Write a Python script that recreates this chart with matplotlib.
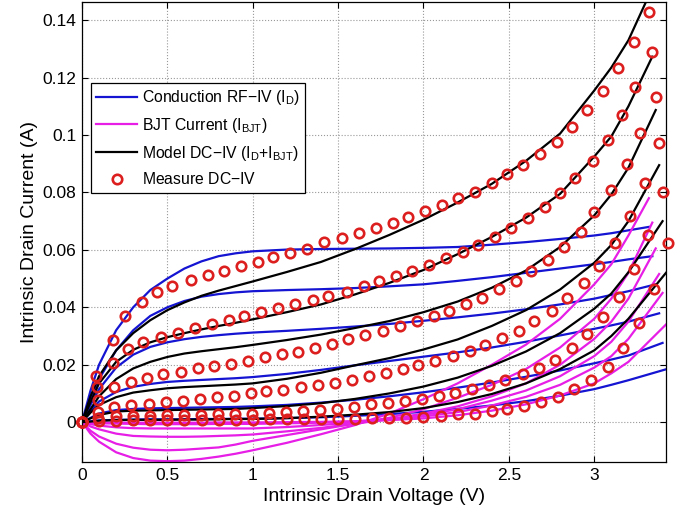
import matplotlib
matplotlib.use("Agg")
import matplotlib.pyplot as plt

# ---- measured DC-IV (intrinsic voltage, current), one list per gate bias ----
meas_v1 = [0, 0.08, 0.18, 0.25, 0.35, 0.44, 0.53, 0.64, 0.74, 0.83, 0.93, 1.03, 1.12, 1.22, 1.32, 1.42, 1.52, 1.62,
           1.72, 1.82, 1.91, 2.01, 2.11, 2.20, 2.30, 2.40, 2.49, 2.58, 2.68, 2.78, 2.87, 2.96, 3.05, 3.14, 3.23, 3.32]
meas_i1 = [0, 0.016, 0.0286, 0.037, 0.042, 0.0453, 0.0474, 0.0495, 0.0512, 0.0526, 0.0544, 0.0559, 0.0575, 0.059,
           0.0604, 0.0627, 0.0641, 0.0658, 0.0675, 0.0693, 0.0714, 0.0735, 0.0756, 0.078, 0.0801, 0.0833, 0.0864,
           0.0895, 0.0934, 0.0976, 0.1028, 0.1087, 0.1153, 0.1233, 0.1324, 0.1429]
meas_v2 = [0, 0.09, 0.18, 0.27, 0.36, 0.46, 0.56, 0.66, 0.76, 0.86, 0.95, 1.05, 1.15, 1.25, 1.35, 1.44, 1.55, 1.65,
           1.74, 1.84, 1.93, 2.03, 2.13, 2.23, 2.32, 2.42, 2.51, 2.61, 2.71, 2.80, 2.89, 2.99, 3.08, 3.16, 3.24, 3.34]
meas_i2 = [0, 0.0122, 0.0205, 0.0254, 0.028, 0.0297, 0.031, 0.0328, 0.0343, 0.0355, 0.0369, 0.0383, 0.0397, 0.041,
           0.0427, 0.0439, 0.0455, 0.0474, 0.0491, 0.0509, 0.0526, 0.0547, 0.0571, 0.0592, 0.0617, 0.0645, 0.0676,
           0.0711, 0.0749, 0.0798, 0.085, 0.0909, 0.0983, 0.107, 0.1167, 0.1289]
meas_v3 = [0, 0.094, 0.19, 0.287, 0.38, 0.476, 0.578, 0.678, 0.775, 0.873, 0.974, 1.072, 1.17, 1.267, 1.365, 1.463,
           1.56, 1.66, 1.76, 1.86, 1.96, 2.06, 2.15, 2.25, 2.34, 2.44, 2.54, 2.63, 2.73, 2.82, 2.92, 3.0, 3.1, 3.19,
           3.27, 3.36]
meas_i3 = [0, 0.0077, 0.0122, 0.014, 0.0154, 0.0166, 0.0175, 0.0187, 0.0196, 0.0204, 0.0214, 0.0226, 0.0236, 0.0246,
           0.0259, 0.0273, 0.0288, 0.0303, 0.0317, 0.0334, 0.0353, 0.037, 0.0388, 0.041, 0.0434, 0.0462, 0.0491,
           0.0526, 0.0565, 0.0611, 0.0663, 0.0733, 0.0808, 0.0899, 0.1006, 0.1134]
meas_v4 = [0, 0.096, 0.19, 0.29, 0.39, 0.49, 0.59, 0.69, 0.79, 0.89, 0.99, 1.08, 1.18, 1.28, 1.38, 1.48, 1.58, 1.68,
           1.78, 1.88, 1.97, 2.07, 2.17, 2.27, 2.36, 2.46, 2.56, 2.65, 2.75, 2.84, 2.94, 3.03, 3.12, 3.21, 3.30, 3.38]
meas_i4 = [0, 0.0036, 0.0052, 0.006, 0.0064, 0.0069, 0.0075, 0.008, 0.0087, 0.0092, 0.010, 0.0108, 0.0113, 0.0121,
           0.0129, 0.0138, 0.0146, 0.0159, 0.0171, 0.0184, 0.0199, 0.0213, 0.023, 0.0247, 0.0268, 0.0292, 0.0318,
           0.0352, 0.0387, 0.0431, 0.0483, 0.0545, 0.0623, 0.0719, 0.0833, 0.0971]
meas_v5 = [0, 0.096, 0.197, 0.297, 0.397, 0.497, 0.597, 0.697, 0.797, 0.896, 0.996, 1.096, 1.195, 1.295, 1.395, 1.494,
           1.593, 1.692, 1.791, 1.89, 1.99, 2.088, 2.187, 2.285, 2.384, 2.48, 2.58, 2.676, 2.772, 2.867, 2.96, 3.053,
           3.144, 3.232, 3.317, 3.40]
meas_i5 = [0, 0.0013, 0.002, 0.0022, 0.0023, 0.0024, 0.0025, 0.0026, 0.0027, 0.0028, 0.003, 0.0032, 0.0035, 0.0038,
           0.0042, 0.0047, 0.0053, 0.0062, 0.0067, 0.0074, 0.008, 0.0092, 0.010, 0.0114, 0.0129, 0.0146, 0.0166,
           0.0189, 0.0218, 0.0259, 0.0306, 0.0365, 0.0437, 0.0535, 0.0652, 0.080]
meas_v6 = [0, 0.1, 0.2, 0.3, 0.4, 0.5, 0.6, 0.7, 0.8, 0.9, 1.0, 1.1, 1.2, 1.3, 1.4, 1.5, 1.6, 1.7, 1.8, 1.9, 2.0, 2.1,
           2.2, 2.3, 2.4, 2.49, 2.59, 2.69, 2.79, 2.88, 2.98, 3.08, 3.17, 3.26, 3.35, 3.43]
meas_i6 = [0, 0.0003, 0.0005, 0.0006, 0.0006, 0.0007, 0.0007, 0.0008, 0.0008, 0.0009, 0.0009, 0.001, 0.001, 0.0011,
           0.0011, 0.0012, 0.0012, 0.0013, 0.0014, 0.0015, 0.0017, 0.0022, 0.0027, 0.003, 0.0038, 0.0047, 0.0056,
           0.0069, 0.0088, 0.0115, 0.0146, 0.0193, 0.0259, 0.0345, 0.0463, 0.0624]

# ---- model curves, sampled at these voltages (last one is each curve's end point) ----
v_grid = [0, 0.05, 0.1, 0.2, 0.3, 0.4, 0.5, 0.6, 0.7, 0.8, 0.9, 1.0, 1.2, 1.4, 1.6, 1.8, 2.0, 2.2, 2.4, 2.6, 2.8,
          3.0, 3.1, 3.2]
v_end = [3.32, 3.34, 3.36, 3.38, 3.40, 3.42]
v_end_model = [3.30, 3.34, 3.36, 3.38, 3.40, 3.42]

# conduction RF-IV (I_D)
blue_1 = [0, 0.011, 0.020, 0.032, 0.040, 0.046, 0.050, 0.0535, 0.056, 0.0578, 0.0588, 0.0595, 0.0601, 0.0603, 0.0604,
          0.0605, 0.0607, 0.061, 0.0618, 0.0627, 0.0638, 0.065, 0.0658, 0.0668, 0.068]
blue_2 = [0, 0.008, 0.015, 0.025, 0.032, 0.037, 0.040, 0.0422, 0.0437, 0.0446, 0.0452, 0.0456, 0.046, 0.0463, 0.0467,
          0.0473, 0.048, 0.0492, 0.0505, 0.052, 0.0535, 0.055, 0.0558, 0.0567, 0.0578]
blue_3 = [0, 0.006, 0.0115, 0.019, 0.0235, 0.0262, 0.0278, 0.0289, 0.0297, 0.0303, 0.0308, 0.0312, 0.0318, 0.0325,
          0.0333, 0.0342, 0.0353, 0.0365, 0.0378, 0.0393, 0.041, 0.043, 0.0443, 0.0456, 0.048]
blue_4 = [0, 0.004, 0.0072, 0.0105, 0.0123, 0.0133, 0.014, 0.0144, 0.0147, 0.015, 0.0153, 0.0157, 0.0168, 0.0182,
          0.0198, 0.0213, 0.0228, 0.0243, 0.026, 0.028, 0.0302, 0.0325, 0.0337, 0.035, 0.0379]
blue_5 = [0, 0.0015, 0.003, 0.0042, 0.0046, 0.0048, 0.0049, 0.005, 0.0051, 0.0052, 0.0053, 0.0055, 0.006, 0.0068,
          0.0078, 0.009, 0.0104, 0.012, 0.0138, 0.0158, 0.018, 0.0205, 0.0218, 0.0232, 0.0276]
blue_6 = [0, 0.0003, 0.0006, 0.0008, 0.0009, 0.001, 0.001, 0.001, 0.0011, 0.0011, 0.0012, 0.0012, 0.0014, 0.0017,
          0.0022, 0.0028, 0.0036, 0.0046, 0.0058, 0.0073, 0.0092, 0.0115, 0.013, 0.0146, 0.0184]

# BJT current (I_BJT)
mag_1 = [0, -0.004, -0.0068, -0.0105, -0.0125, -0.0134, -0.0136, -0.0134, -0.0128, -0.012, -0.011, -0.0098, -0.0072,
         -0.0042, -0.001, 0.003, 0.008, 0.0135, 0.02, 0.027, 0.036, 0.048, 0.055, 0.065, 0.078]
mag_2 = [0, -0.003, -0.005, -0.0075, -0.0089, -0.0096, -0.0098, -0.0096, -0.0092, -0.0088, -0.0078, -0.0065, -0.0045,
         -0.0025, -0.0005, 0.0015, 0.0045, 0.0085, 0.013, 0.0185, 0.026, 0.036, 0.043, 0.052, 0.0695]
mag_3 = [0, -0.0015, -0.0025, -0.004, -0.0048, -0.005, -0.0051, -0.0051, -0.005, -0.0048, -0.0046, -0.0043, -0.0032,
         -0.002, -0.0005, 0.001, 0.003, 0.0055, 0.009, 0.0135, 0.020, 0.029, 0.035, 0.043, 0.0605]
mag_4 = [0, -0.0007, -0.0012, -0.0018, -0.0021, -0.0022, -0.0022, -0.0022, -0.0022, -0.0022, -0.0022, -0.0022,
         -0.0017, -0.001, 0.0, 0.001, 0.0025, 0.0045, 0.0075, 0.011, 0.016, 0.023, 0.028, 0.035, 0.0516]
mag_5 = [0, -0.0002, -0.0004, -0.0005, -0.0006, -0.0007, -0.0007, -0.0007, -0.0007, -0.0006, -0.0006, -0.0006,
         -0.0004, -0.0002, 0.0003, 0.001, 0.002, 0.0035, 0.0058, 0.0088, 0.013, 0.019, 0.023, 0.029, 0.045]
mag_6 = [0, -0.0001, -0.0001, -0.0002, -0.0002, -0.0002, -0.0002, -0.0002, -0.0002, -0.0001, -0.0001, -0.0001, 0.0,
         0.0001, 0.0003, 0.0007, 0.0013, 0.0024, 0.004, 0.0062, 0.0093, 0.0135, 0.017, 0.021, 0.034]

# model DC-IV (I_D + I_BJT)
black_1 = [0, 0.009, 0.016, 0.025, 0.031, 0.0355, 0.039, 0.0417, 0.044, 0.0458, 0.0474, 0.049, 0.0523, 0.0558, 0.0603,
           0.0652, 0.0705, 0.0765, 0.083, 0.091, 0.1005, 0.1155, 0.1235, 0.133, 0.146]
black_2 = [0, 0.007, 0.0135, 0.021, 0.0252, 0.0278, 0.0296, 0.031, 0.0323, 0.0335, 0.0346, 0.0358, 0.0383, 0.041,
           0.0445, 0.0485, 0.053, 0.0585, 0.0645, 0.0712, 0.0795, 0.0925, 0.0995, 0.11, 0.1273]
black_3 = [0, 0.0045, 0.009, 0.015, 0.0187, 0.021, 0.0227, 0.0239, 0.0247, 0.0254, 0.0261, 0.0269, 0.0286, 0.0305,
           0.0328, 0.0352, 0.0383, 0.042, 0.0468, 0.0528, 0.061, 0.072, 0.0793, 0.0886, 0.1087]
black_4 = [0, 0.0033, 0.006, 0.0087, 0.0103, 0.0111, 0.0118, 0.0122, 0.0125, 0.0128, 0.0131, 0.0135, 0.0151, 0.0172,
           0.0198, 0.0223, 0.0253, 0.0288, 0.0335, 0.039, 0.0462, 0.0555, 0.0617, 0.070, 0.0895]
black_5 = [0, 0.0013, 0.0025, 0.0037, 0.004, 0.0041, 0.0042, 0.0043, 0.0044, 0.0045, 0.0046, 0.0049, 0.0056, 0.0066,
           0.0081, 0.010, 0.0124, 0.0155, 0.0196, 0.0246, 0.031, 0.0395, 0.0448, 0.0522, 0.070]
black_6 = [0, 0.0002, 0.0005, 0.0007, 0.0008, 0.0008, 0.0008, 0.0009, 0.0009, 0.001, 0.0011, 0.0011, 0.0014, 0.0019,
           0.0026, 0.0035, 0.0049, 0.007, 0.0098, 0.0135, 0.0185, 0.025, 0.030, 0.036, 0.052]

meas_v = [meas_v1, meas_v2, meas_v3, meas_v4, meas_v5, meas_v6]
meas_i = [meas_i1, meas_i2, meas_i3, meas_i4, meas_i5, meas_i6]
blues = [blue_1, blue_2, blue_3, blue_4, blue_5, blue_6]
mags = [mag_1, mag_2, mag_3, mag_4, mag_5, mag_6]
blacks = [black_1, black_2, black_3, black_4, black_5, black_6]

x_ticks = [0, 0.5, 1, 1.5, 2, 2.5, 3]
x_tick_labels = ["0", "0.5", "1", "1.5", "2", "2.5", "3"]
y_ticks = [0, 0.02, 0.04, 0.06, 0.08, 0.1, 0.12, 0.14]
y_tick_labels = ["0", "0.02", "0.04", "0.06", "0.08", "0.1", "0.12", "0.14"]

plt.rcParams['font.family'] = ['Liberation Sans', 'DejaVu Sans']
plt.rcParams['mathtext.fontset'] = 'custom'
plt.rcParams['mathtext.rm'] = 'Liberation Sans'

BLUE = '#1414d2'
MAGENTA = '#e61ee6'
RED = '#dc1e1e'

fig = plt.figure(figsize=(6.82, 5.18), dpi=100)
ax = fig.add_axes([0.1202, 0.108, 0.8563, 0.888])

for k in range(6):
    ax.plot(v_grid + [v_end[k]], blues[k], color=BLUE, lw=1.6, zorder=2,
            label=r'Conduction RF$-$IV (I$_\mathrm{D}$)' if k == 0 else None)
for k in range(6):
    ax.plot(v_grid + [v_end[k]], mags[k], color=MAGENTA, lw=1.6, zorder=2,
            label=r'BJT Current (I$_\mathrm{BJT}$)' if k == 0 else None)
for k in range(6):
    ax.plot(v_grid + [v_end_model[k]], blacks[k], color='black', lw=1.6, zorder=3,
            label=r'Model DC$-$IV (I$_\mathrm{D}$+I$_\mathrm{BJT}$)' if k == 0 else None)
for k in range(6):
    ax.plot(meas_v[k], meas_i[k], 'o', ms=6.8, mfc='none', mec=RED, mew=1.9, zorder=4, clip_on=False,
            label='Measure DC$-$IV' if k == 0 else None)

ax.set_xlim(0, 3.42)
ax.set_ylim(-0.0139, 0.1463)
ax.set_xticks(x_ticks)
ax.set_xticklabels(x_tick_labels)
ax.set_yticks(y_ticks)
ax.set_yticklabels(y_tick_labels)
ax.tick_params(direction='in', top=True, right=True, labelsize=12.5, length=4, width=0.8, pad=4)
ax.grid(True, linestyle=':', color='#999999', linewidth=0.8)
for s in ax.spines.values():
    s.set_linewidth(0.9)

ax.set_xlabel('Intrinsic Drain Voltage (V)', fontsize=14, labelpad=4)
ax.set_ylabel('Intrinsic Drain Current (A)', fontsize=14, labelpad=3)

leg = ax.legend(loc='upper left', bbox_to_anchor=(0.0149, 0.8246), fontsize=11.3, frameon=True, fancybox=False,
                edgecolor='black', framealpha=1, handlelength=2.6, borderpad=0.35, labelspacing=0.55,
                handletextpad=0.3, borderaxespad=0)
leg.get_frame().set_linewidth(0.9)

fig.savefig('out.png', dpi=100)
